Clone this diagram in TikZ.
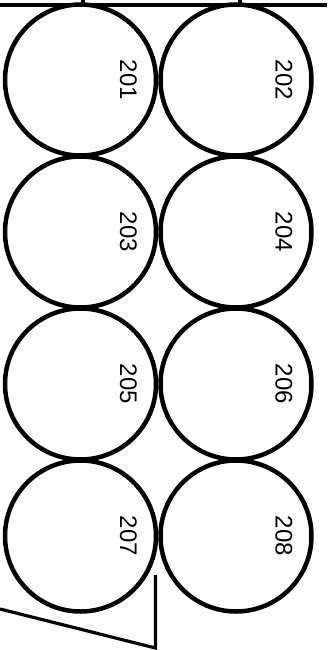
\documentclass[tikz,border=0pt]{standalone}
\usepackage{fontspec}
\setmainfont{Liberation Sans}
\usetikzlibrary{positioning}

\begin{document}
\begin{tikzpicture}[
      x=1pt,y=-1pt,
      node distance=1pt and 4.5pt,
      ring/.style={
        draw=black,
        line width=4.5pt,
        circle,
        outer sep=0pt,
        inner sep=0pt,
        minimum size=151pt
      },
      tag/.style={
        rotate=-90,
        inner sep=0pt,
        font=\fontsize{24}{24}\selectfont
      },
      edge/.style={line width=3.2pt,line cap=butt,line join=miter}
    ]
    \useasboundingbox (0,0) rectangle (327,650);
    % left column
    \node[ring] (r201) at (80.5,80) {};
    \node[ring,below=of r201] (r203) {};
    \node[ring,below=of r203] (r205) {};
    \node[ring,below=of r205] (r207) {};
    % right column
    \node[ring,right=of r201] (r202) {};
    \node[ring,right=of r203] (r204) {};
    \node[ring,right=of r205] (r206) {};
    \node[ring,right=of r207] (r208) {};
    % numbers
    \foreach \n in {201,...,208}
      \node[tag] at ([xshift=48pt]r\n.center) {\n};
    % top rail
    \draw[edge] (0,5) -- (327,5);
    \draw[edge] (83,0) -- (83,5);
    \draw[edge] (240,0) -- (240,5);
    % bottom wedge
    \draw[edge] (0,609) -- (155.5,648) -- (155.5,575);
  \end{tikzpicture}
\end{document}
